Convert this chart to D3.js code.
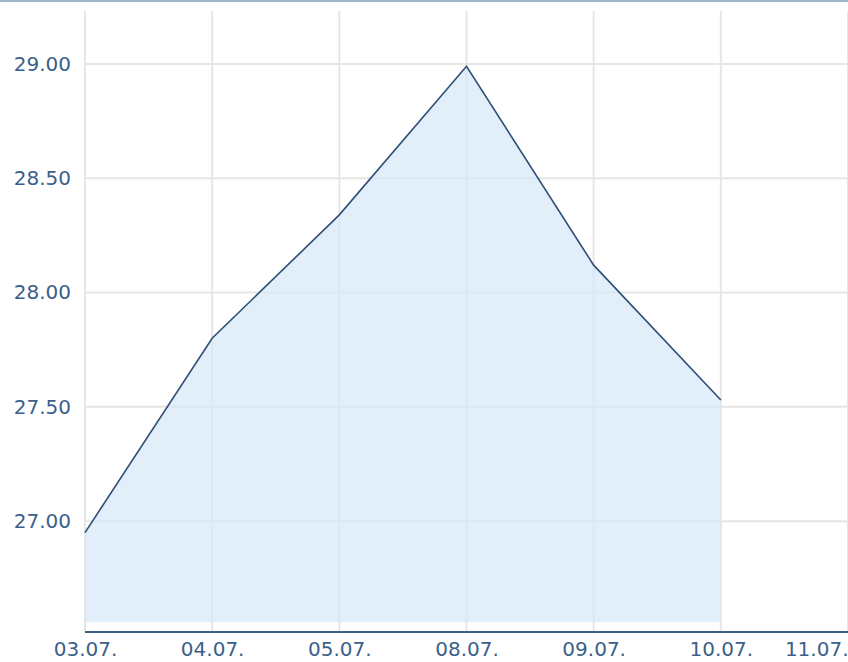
<!DOCTYPE html>
<html>
<head>
<meta charset="utf-8">
<script src="https://cdn.jsdelivr.net/npm/d3@7"></script>
<style>
  html, body { margin: 0; padding: 0; background: #ffffff; }
  svg { display: block; }
  .tick text { font-family: "DejaVu Sans", Verdana, sans-serif; font-size: 20px; fill: #3b5f8a; }
</style>
</head>
<body>
<svg id="chart" width="848" height="662"></svg>
<script>
const categories = ["03.07.", "04.07.", "05.07.", "08.07.", "09.07.", "10.07.", "11.07."];
const values = [26.95, 27.80, 28.34, 28.99, 28.12, 27.53, null];
const yTicks = [27.0, 27.5, 28.0, 28.5, 29.0];
const yDomain = [26.515, 29.232];
const areaBase = 26.558;

const W = 848, H = 662;
const svg = d3.select("#chart");

const x = d3.scalePoint().domain(categories).range([85, 848]);
const y = d3.scaleLinear().domain(yDomain).range([632, 11]);

// top border
svg.append("rect").attr("x", 0).attr("y", 0).attr("width", W).attr("height", 2).attr("fill", "#9db4cc");

// grid
const grid = svg.append("g");
grid.selectAll("line.h").data(yTicks).join("line")
  .attr("x1", 85).attr("x2", 848)
  .attr("y1", d => y(d)).attr("y2", d => y(d))
  .attr("stroke", "#e6e6e6").attr("stroke-width", 2);
grid.selectAll("line.v").data(categories).join("line")
  .attr("x1", d => x(d)).attr("x2", d => x(d))
  .attr("y1", y(yDomain[1])).attr("y2", y(yDomain[0]))
  .attr("stroke", "#e6e6e6").attr("stroke-width", 2);

const pts = categories.map((c, i) => ({c, v: values[i]})).filter(d => d.v != null);

// area
svg.append("path").datum(pts)
  .attr("d", d3.area().x(d => x(d.c)).y0(y(areaBase)).y1(d => y(d.v)))
  .attr("fill", "#d6e7f6").attr("fill-opacity", 0.7);

// line
svg.append("path").datum(pts)
  .attr("d", d3.line().x(d => x(d.c)).y(d => y(d.v)))
  .attr("fill", "none").attr("stroke", "#2e4e77").attr("stroke-width", 1.6);

// y axis
const yAxis = svg.append("g").attr("transform", "translate(85,0)")
  .call(d3.axisLeft(y).tickValues(yTicks).tickFormat(d3.format(".2f")).tickSize(0).tickPadding(14));
yAxis.select(".domain").remove();

// x axis
const xAxis = svg.append("g").attr("transform", "translate(0,632)")
  .call(d3.axisBottom(x).tickSize(0).tickPadding(10));
xAxis.select(".domain").remove();
xAxis.selectAll(".tick text").filter((d, i, n) => i === n.length - 1).attr("text-anchor", "end").attr("x", 0);
svg.append("line").attr("x1", 85).attr("x2", 848).attr("y1", 632).attr("y2", 632)
  .attr("stroke", "#3d5f87").attr("stroke-width", 2);
</script>
</body>
</html>
